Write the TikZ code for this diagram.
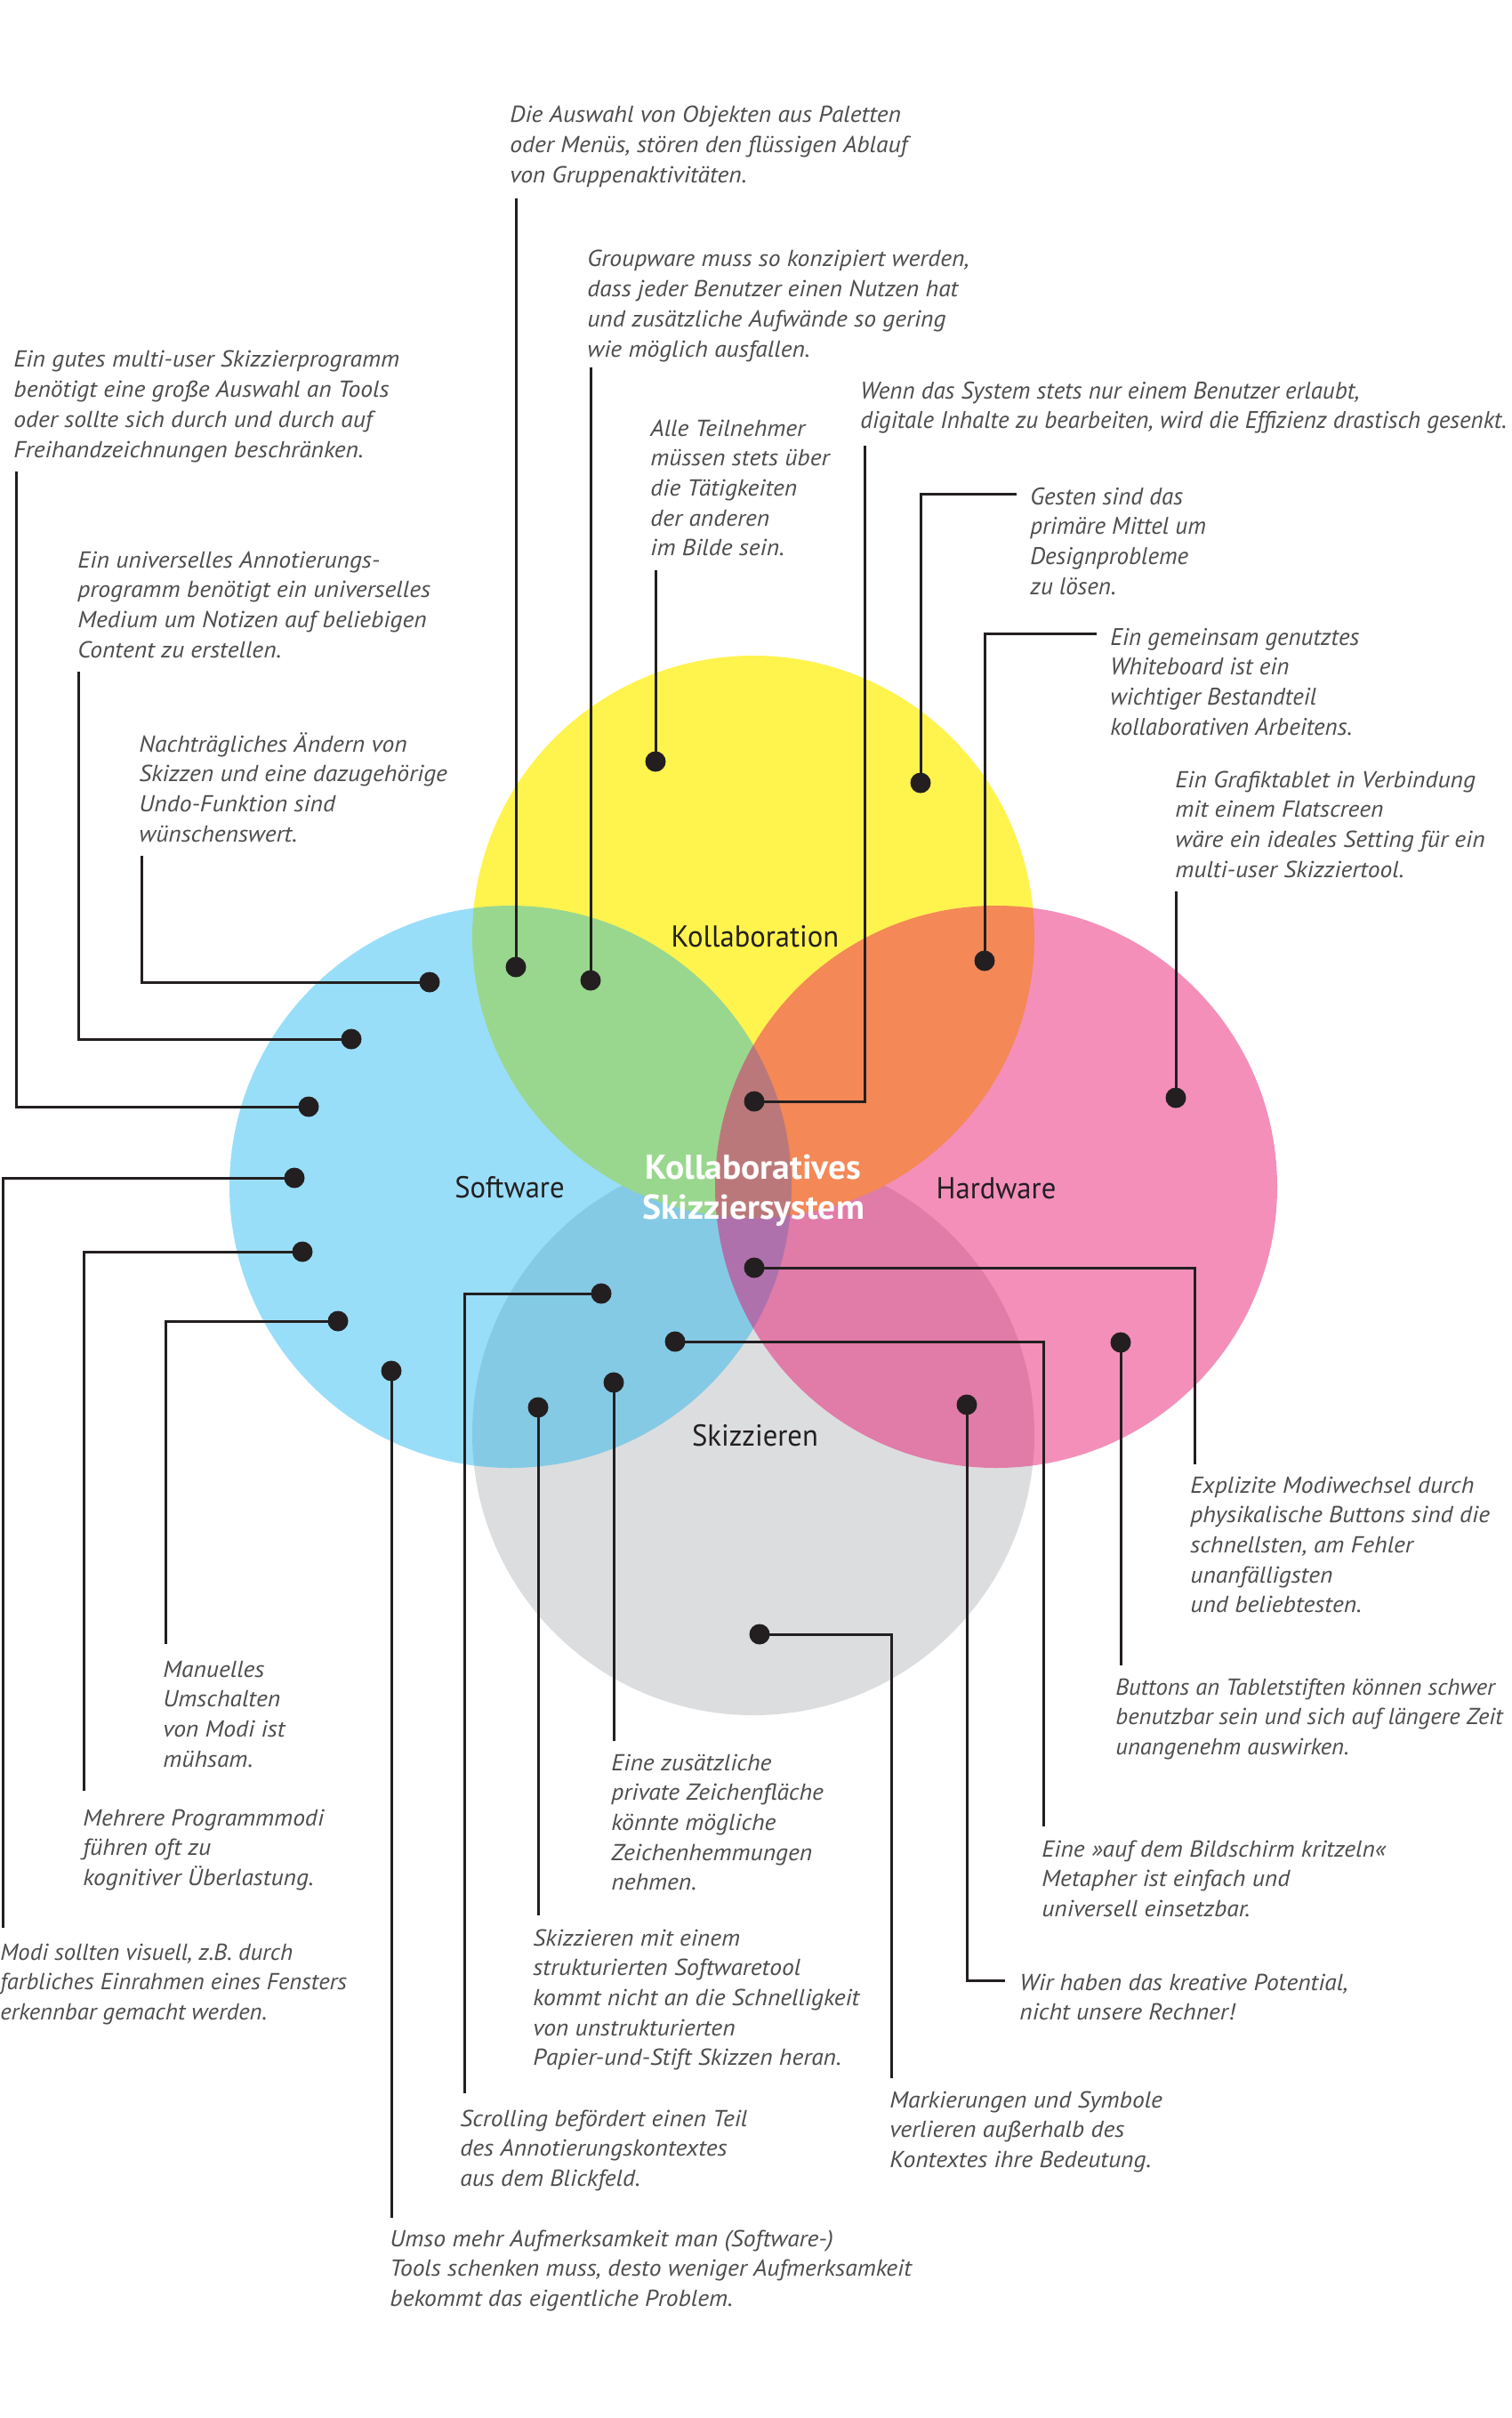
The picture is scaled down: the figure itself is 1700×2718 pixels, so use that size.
\documentclass[tikz,border=0pt]{standalone}
\usepackage{fontspec}
\setmainfont{PT Sans}
\newfontfamily\annfam[FakeStretch=1.06]{PT Sans}
\newfontfamily\annnfam[FakeStretch=1.025]{PT Sans}
\newfontfamily\lblfam[FakeStretch=0.96]{PT Sans}
\newfontfamily\ctrfam[FakeStretch=1.02]{PT Sans}
\definecolor{cyel}{RGB}{255,243,78}
\definecolor{cgry}{RGB}{220,221,223}
\definecolor{ccya}{RGB}{0,174,239}
\definecolor{cmag}{RGB}{232,0,100}
\definecolor{linecol}{RGB}{35,31,32}
\definecolor{anncol}{RGB}{77,77,79}
\definecolor{lblcol}{RGB}{35,31,32}
\newcommand\annfont{\annfam\fontsize{13.0}{16.85}\selectfont\itshape}
\newcommand\nannfont{\annnfam\fontsize{13.0}{16.85}\selectfont\itshape}
\newcommand\cannfont{\fontsize{13.5}{16.85}\selectfont\itshape}
\newcommand\lblfont{\lblfam\fontsize{17}{22}\selectfont}
\newcommand\ctrfont{\ctrfam\fontsize{19.4}{22.5}\selectfont\bfseries}
\newcommand\rows[1]{\begin{tabular}[t]{@{}l@{}}#1\end{tabular}}
\newcommand\crows[1]{\begin{tabular}[t]{@{}c@{}}#1\end{tabular}}
\tikzset{
  venn/.style={circle, minimum size=316pt, inner sep=0pt, draw=none},
  dotnode/.style={circle, fill=linecol, inner sep=0pt, minimum size=11.5pt},
  conn/.style={draw=linecol, line width=1.5pt},
  ann/.style={anchor=base west, inner sep=0pt, text=anncol, font=\annfont},
  nann/.style={anchor=base west, inner sep=0pt, text=anncol, font=\nannfont},
  cann/.style={anchor=base west, inner sep=0pt, text=anncol, font=\cannfont},
  lbl/.style={anchor=base, inner sep=0pt, text=lblcol, font=\lblfont},
  ctr/.style={anchor=base, inner sep=0pt, text=white, font=\ctrfont}
}
\begin{document}
\begin{tikzpicture}[x=0.5pt,y=-0.5pt]
\useasboundingbox (0,0) rectangle (1700,2718);
\fill[white] (0,0) rectangle (1700,2718);
% circles
\node[venn, fill=cgry] (skz) at (847,1612) {};
\node[venn, fill=cyel] (kol) at (847,1053) {};
\node[venn, fill=ccya, fill opacity=0.4] (sof) at (574,1334) {};
\node[venn, fill=cmag, fill opacity=0.44] (hrd) at (1120,1334) {};
% labels
\node[lbl] (lk) at (849,1064) {Kollaboration};
\node[lbl] (ls) at (573,1346) {Software};
\node[lbl] (lh) at (1120,1347) {Hardware};
\node[lbl] (lz) at (849,1625) {Skizzieren};
\node[ctr] (lc) at (847,1325) {\crows{Kollaboratives\\Skizziersystem}};
% dots
\node[dotnode] (d1) at (580,1087) {};
\node[dotnode] (d2) at (664,1102) {};
\node[dotnode] (d3) at (347,1244) {};
\node[dotnode] (d4) at (395,1168) {};
\node[dotnode] (d5) at (483,1104) {};
\node[dotnode] (d6) at (737,856) {};
\node[dotnode] (d7) at (848,1238) {};
\node[dotnode] (d8) at (1035,880) {};
\node[dotnode] (d9) at (1107,1080) {};
\node[dotnode] (d10) at (1322,1234) {};
\node[dotnode] (d11) at (848,1425) {};
\node[dotnode] (d12) at (1260,1509) {};
\node[dotnode] (d13) at (759,1508) {};
\node[dotnode] (d14) at (1087,1579) {};
\node[dotnode] (d15) at (854,1837) {};
\node[dotnode] (d16) at (676,1454) {};
\node[dotnode] (d17) at (690,1554) {};
\node[dotnode] (d18) at (605,1582) {};
\node[dotnode] (d19) at (440,1541) {};
\node[dotnode] (d20) at (380,1485) {};
\node[dotnode] (d21) at (340,1407) {};
\node[dotnode] (d22) at (331,1324) {};
% line ends
\coordinate (e1) at (580,223);
\coordinate (e2) at (664,413);
\coordinate (e3) at (18,530);
\coordinate (e4) at (88,755);
\coordinate (e5) at (159,962);
\coordinate (e6) at (737,641);
\coordinate (e7) at (972,501);
\coordinate (e8) at (1143,555);
\coordinate (e9) at (1233,712);
\coordinate (e10) at (1322,1002);
\coordinate (e11) at (1343,1646);
\coordinate (e12) at (1260,1872);
\coordinate (e13) at (1173,2053);
\coordinate (e14) at (1130,2226);
\coordinate (e15) at (1002,2336);
\coordinate (e16) at (522,2353);
\coordinate (e17) at (690,1957);
\coordinate (e18) at (605,2153);
\coordinate (e19) at (440,2493);
\coordinate (e20) at (186,1848);
\coordinate (e21) at (94,2013);
\coordinate (e22) at (3,2167);
% connectors
\draw[conn] (d1.center) -- (e1);
\draw[conn] (d2.center) -- (e2);
\draw[conn] (d3.center) -| (e3);
\draw[conn] (d4.center) -| (e4);
\draw[conn] (d5.center) -| (e5);
\draw[conn] (d6.center) -- (e6);
\draw[conn] (d7.center) -| (e7);
\draw[conn] (d8.center) |- (e8);
\draw[conn] (d9.center) |- (e9);
\draw[conn] (d10.center) -- (e10);
\draw[conn] (d11.center) -| (e11);
\draw[conn] (d12.center) -- (e12);
\draw[conn] (d13.center) -| (e13);
\draw[conn] (d14.center) |- (e14);
\draw[conn] (d15.center) -| (e15);
\draw[conn] (d16.center) -| (e16);
\draw[conn] (d17.center) -- (e17);
\draw[conn] (d18.center) -- (e18);
\draw[conn] (d19.center) -- (e19);
\draw[conn] (d20.center) -| (e20);
\draw[conn] (d21.center) -| (e21);
\draw[conn] (d22.center) -| (e22);
% texts
\node[ann] (t1) at (573,138) {\rows{Die Auswahl von Objekten aus Paletten\\oder Menüs, stören den flüssigen Ablauf\\von Gruppenaktivitäten.}};
\node[ann] (t2) at (660,300) {\rows{Groupware muss so konzipiert werden,\\dass jeder Benutzer einen Nutzen hat\\und zusätzliche Aufwände so gering\\wie möglich ausfallen.}};
\node[ann] (t3) at (15,413) {\rows{Ein gutes multi-user Skizzierprogramm\\benötigt eine große Auswahl an Tools\\oder sollte sich durch und durch auf\\Freihandzeichnungen beschränken.}};
\node[cann] (t4) at (967,448) {\rows{Wenn das System stets nur einem Benutzer erlaubt,\\digitale Inhalte zu bearbeiten, wird die Effizienz drastisch gesenkt.}};
\node[ann] (t5) at (731,490) {\rows{Alle Teilnehmer\\müssen stets über\\die Tätigkeiten\\der anderen\\im Bilde sein.}};
\node[cann] (t6) at (1158,567) {\rows{Gesten sind das\\primäre Mittel um\\Designprobleme\\zu lösen.}};
\node[ann] (t7) at (87,638) {\rows{Ein universelles Annotierungs-\\programm benötigt ein universelles\\Medium um Notizen auf beliebigen\\Content zu erstellen.}};
\node[cann] (t8) at (1248,725) {\rows{Ein gemeinsam genutztes\\Whiteboard ist ein\\wichtiger Bestandteil\\kollaborativen Arbeitens.}};
\node[ann] (t9) at (156,845) {\rows{Nachträgliches Ändern von\\Skizzen und eine dazugehörige\\Undo-Funktion sind\\wünschenswert.}};
\node[ann] (t10) at (1321,885) {\rows{Ein Grafiktablet in Verbindung\\mit einem Flatscreen\\wäre ein ideales Setting für ein\\multi-user Skizziertool.}};
\node[ann] (t11) at (1338,1678) {\rows{Explizite Modiwechsel durch\\physikalische Buttons sind die\\schnellsten, am Fehler\\unanfälligsten\\und beliebtesten.}};
\node[nann] (t12) at (1254,1905) {\rows{Buttons an Tabletstiften können schwer\\benutzbar sein und sich auf längere Zeit\\unangenehm auswirken.}};
\node[ann] (t13) at (183,1885) {\rows{Manuelles\\Umschalten\\von Modi ist\\mühsam.}};
\node[ann] (t14) at (687,1990) {\rows{Eine zusätzliche\\private Zeichenfläche\\könnte mögliche\\Zeichenhemmungen\\nehmen.}};
\node[ann] (t15) at (93,2052) {\rows{Mehrere Programmmodi\\führen oft zu\\kognitiver Überlastung.}};
\node[ann] (t16) at (1171,2087) {\rows{Eine »auf dem Bildschirm kritzeln«\\Metapher ist einfach und\\universell einsetzbar.}};
\node[ann] (t17) at (599,2187) {\rows{Skizzieren mit einem\\strukturierten Softwaretool\\kommt nicht an die Schnelligkeit\\von unstrukturierten\\Papier-und-Stift Skizzen heran.}};
\node[nann] (t18) at (0,2203) {\rows{Modi sollten visuell, z.B. durch\\farbliches Einrahmen eines Fensters\\erkennbar gemacht werden.}};
\node[ann] (t19) at (1146,2237) {\rows{Wir haben das kreative Potential,\\nicht unsere Rechner!}};
\node[ann] (t20) at (1000,2369) {\rows{Markierungen und Symbole\\verlieren außerhalb des\\Kontextes ihre Bedeutung.}};
\node[ann] (t21) at (517,2390) {\rows{Scrolling befördert einen Teil\\des Annotierungskontextes\\aus dem Blickfeld.}};
\node[ann] (t22) at (438,2525) {\rows{Umso mehr Aufmerksamkeit man (Software-)\\Tools schenken muss, desto weniger Aufmerksamkeit\\bekommt das eigentliche Problem.}};
\end{tikzpicture}
\end{document}
